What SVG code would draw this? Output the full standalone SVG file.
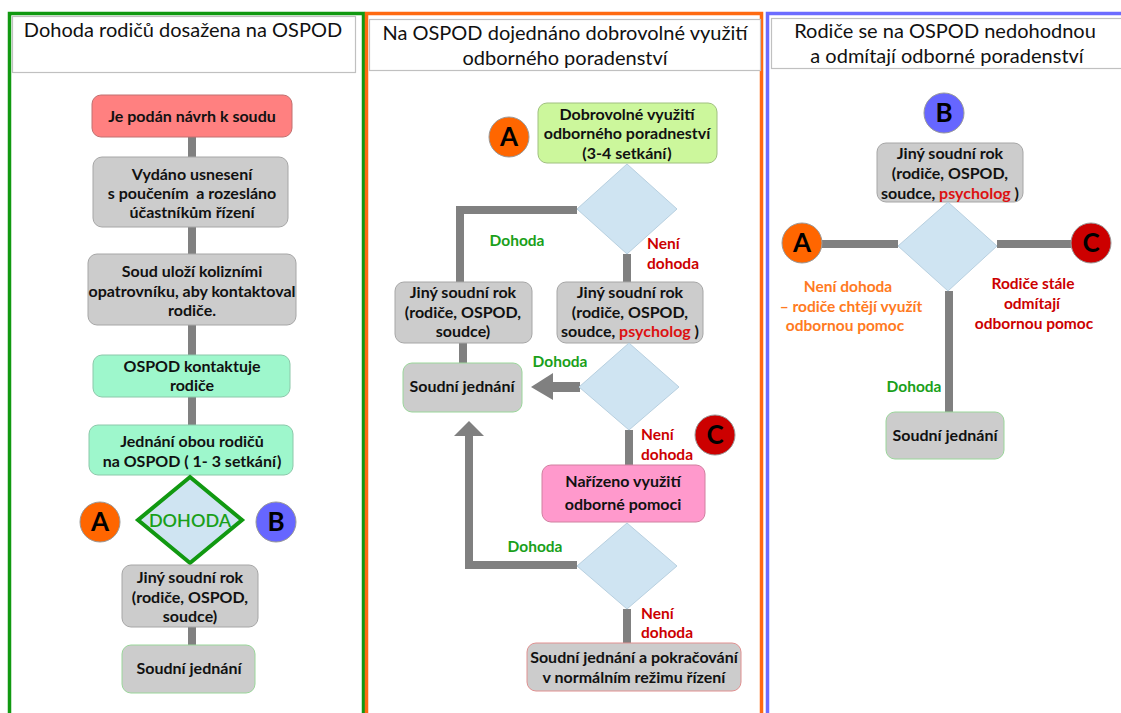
<svg xmlns="http://www.w3.org/2000/svg" width="1121" height="713" viewBox="0 0 1121 713">
<defs>
<style>
text{font-family:"Lato","Open Sans","Liberation Sans",sans-serif;}
.t{font-size:16px;font-weight:bold;fill:#111;text-anchor:middle;}
.h{font-size:20px;fill:#111;text-anchor:middle;}
.g{font-size:15.5px;font-weight:bold;fill:#1aa01a;}
.r{font-size:15.5px;font-weight:bold;fill:#cc0000;}
.o{font-size:15.5px;font-weight:bold;fill:#ff7a22;}
.ps{fill:#dd1111;}
.gray{fill:#cccccc;stroke:#a6a6a6;stroke-width:1;}
.grayg{fill:#cccccc;stroke:#9ad69a;stroke-width:1;}
.grayr{fill:#cccccc;stroke:#e09090;stroke-width:1;}
.red{fill:#ff8080;stroke:#c07070;stroke-width:1;}
.mint{fill:#9ef7cc;stroke:#8cc8aa;stroke-width:1;}
.lg{fill:#ccf79c;stroke:#a0c080;stroke-width:1;}
.pink{fill:#ff99cc;stroke:#d080a0;stroke-width:1;}
.dia{fill:#cfe4f2;stroke:#b8d0e0;stroke-width:1;}
.hdr{fill:#ffffff;stroke:#c0c0c0;stroke-width:1.2;}
.con{stroke:#808080;stroke-width:8;fill:none;}
.ah{fill:#808080;}
.cl{font-size:26px;font-weight:bold;fill:#000;text-anchor:middle;}
.ca{fill:#ff6600;stroke:#999;stroke-width:1;}
.cb{fill:#6666ff;stroke:#999;stroke-width:1;}
.cc{fill:#cc0000;stroke:#999;stroke-width:1;}
</style>
</defs>
<rect width="1121" height="713" fill="#ffffff"/>

<!-- panels -->
<g id="panel-green">
<rect x="9.5" y="13.5" width="354" height="720" fill="none" stroke="#119911" stroke-width="3.5"/>
<rect class="hdr" x="12.5" y="16.5" width="343" height="56"/>
<text class="h" x="183" y="37">Dohoda rodičů dosažena na OSPOD</text>
</g>
<g id="panel-orange">
<rect x="366.5" y="13.5" width="395" height="720" fill="none" stroke="#ff6a10" stroke-width="3.5"/>
<rect class="hdr" x="369.5" y="19.5" width="391" height="51"/>
<text class="h" x="565" y="40">Na OSPOD dojednáno dobrovolné využití</text>
<text class="h" x="565" y="65">odborného poradenství</text>
</g>
<g id="panel-blue">
<rect x="767.5" y="13.5" width="380" height="720" fill="none" stroke="#6b6bff" stroke-width="3.5"/>
<rect class="hdr" x="771.5" y="18.5" width="360" height="50"/>
<text class="h" x="945" y="38">Rodiče se na OSPOD nedohodnou</text>
<text class="h" x="947" y="63">a odmítají odborné poradenství</text>
</g>

<!-- connectors -->
<g id="connectors">
<line class="con" x1="192" y1="137" x2="192" y2="157"/>
<line class="con" x1="192" y1="227" x2="192" y2="254"/>
<line class="con" x1="192" y1="325" x2="192" y2="355"/>
<line class="con" x1="192" y1="397" x2="192" y2="425"/>
<line class="con" x1="192" y1="627" x2="192" y2="645"/>

<polyline class="con" points="577,210 460,210 460,282"/>
<line class="con" x1="627" y1="254" x2="627" y2="282"/>
<line class="con" x1="463" y1="343" x2="463" y2="363"/>
<line class="con" x1="580" y1="387" x2="552" y2="387" style="stroke-width:10"/>
<polygon class="ah" points="553,373 531,387 553,400"/>
<line class="con" x1="629" y1="430" x2="629" y2="465"/>
<polyline class="con" points="577,565 469,565 469,434"/>
<polygon class="ah" points="454,436 469,421 484,436"/>
<line class="con" x1="627" y1="609" x2="627" y2="643"/>

<line class="con" x1="822" y1="244" x2="898" y2="244"/>
<line class="con" x1="997" y1="244" x2="1072" y2="244"/>
<line class="con" x1="949" y1="291" x2="949" y2="412"/>
</g>

<!-- connector labels -->
<g id="labels">
<text class="g" x="517" y="246" text-anchor="middle">Dohoda</text>
<text class="r" x="647" y="249">Není</text>
<text class="r" x="647" y="269">dohoda</text>
<text class="g" x="560" y="367" text-anchor="middle">Dohoda</text>
<text class="r" x="641" y="440">Není</text>
<text class="r" x="641" y="460">dohoda</text>
<text class="g" x="535" y="552" text-anchor="middle">Dohoda</text>
<text class="r" x="641" y="619">Není</text>
<text class="r" x="641" y="638">dohoda</text>
<text class="o" x="848" y="292" text-anchor="middle">Není dohoda</text>
<text class="o" x="851" y="312" text-anchor="middle">– rodiče chtějí využít</text>
<text class="o" x="845" y="331" text-anchor="middle">odbornou pomoc</text>
<text class="r" x="1033" y="289" text-anchor="middle">Rodiče stále</text>
<text class="r" x="1032" y="309" text-anchor="middle">odmítají</text>
<text class="r" x="1034" y="329" text-anchor="middle">odbornou pomoc</text>
<text class="g" x="914" y="392" text-anchor="middle">Dohoda</text>
</g>

<!-- panel 1 nodes -->
<g id="n1"><rect class="red" x="92" y="95" width="200" height="42" rx="9"/>
<text class="t" x="192" y="122">Je podán návrh k soudu</text></g>
<g id="n2"><rect class="gray" x="93" y="157" width="195" height="70" rx="9"/>
<text class="t" x="192" y="180">Vydáno usnesení</text>
<text class="t" x="192" y="199" xml:space="preserve">s poučením  a rozesláno</text>
<text class="t" x="192" y="218">účastníkům řízení</text></g>
<g id="n3"><rect class="gray" x="88" y="254" width="208" height="71" rx="9"/>
<text class="t" x="192" y="277">Soud uloží kolizními</text>
<text class="t" x="192" y="297">opatrovníku, aby kontaktoval</text>
<text class="t" x="192" y="316">rodiče.</text></g>
<g id="n4"><rect class="mint" x="93" y="355" width="197" height="42" rx="9"/>
<text class="t" x="192" y="372">OSPOD kontaktuje</text>
<text class="t" x="192" y="391">rodiče</text></g>
<g id="n5"><rect class="mint" x="89" y="425" width="204" height="50" rx="9"/>
<text class="t" x="192" y="447">Jednání obou rodičů</text>
<text class="t" x="192" y="467">na OSPOD ( 1- 3 setkání)</text></g>
<g id="d1"><polygon points="190,477 242,520 190,563 138,520" fill="#cfe4f2" stroke="#119911" stroke-width="4" stroke-linejoin="miter"/>
<text x="190" y="527" style="font-size:18px;font-weight:600;fill:#1aa01a;text-anchor:middle">DOHODA</text></g>
<g id="cA1"><circle class="ca" cx="100" cy="522" r="20"/><text class="cl" x="100" y="531">A</text></g>
<g id="cB1"><circle class="cb" cx="276" cy="522" r="20"/><text class="cl" x="276" y="531">B</text></g>
<g id="n6"><rect class="gray" x="122" y="565" width="136" height="62" rx="9"/>
<text class="t" x="190" y="583">Jiný soudní rok</text>
<text class="t" x="190" y="603">(rodiče, OSPOD,</text>
<text class="t" x="190" y="622">soudce)</text></g>
<g id="n7"><rect class="grayg" x="122" y="645" width="133" height="48" rx="9"/>
<text class="t" x="189" y="674">Soudní jednání</text></g>

<!-- panel 2 nodes -->
<g id="cA2"><circle class="ca" cx="509" cy="137" r="20"/><text class="cl" x="509" y="146">A</text></g>
<g id="n8"><rect class="lg" x="538" y="103" width="179" height="60" rx="9"/>
<text class="t" x="627" y="120">Dobrovolné využití</text>
<text class="t" x="627" y="139">odborného poradneství</text>
<text class="t" x="627" y="159">(3-4 setkání)</text></g>
<g id="d2"><polygon class="dia" points="627,164 677,209 627,254 577,209"/></g>
<g id="n9"><rect class="gray" x="395" y="282" width="137" height="61" rx="9"/>
<text class="t" x="463" y="298">Jiný soudní rok</text>
<text class="t" x="463" y="318">(rodiče, OSPOD,</text>
<text class="t" x="463" y="337">soudce)</text></g>
<g id="n10"><rect class="gray" x="557" y="282" width="146" height="61" rx="9"/>
<text class="t" x="630" y="298">Jiný soudní rok</text>
<text class="t" x="630" y="318">(rodiče, OSPOD,</text>
<text class="t" x="630" y="337">soudce, <tspan class="ps">psycholog</tspan> )</text></g>
<g id="n11"><rect class="grayg" x="403" y="363" width="119" height="49" rx="9"/>
<text class="t" x="462" y="392">Soudní jednání</text></g>
<g id="d3"><polygon class="dia" points="629,343 679,387 629,430 579,387"/></g>
<g id="cC2"><circle class="cc" cx="715" cy="435" r="20"/><text class="cl" x="715" y="444">C</text></g>
<g id="n12"><rect class="pink" x="542" y="465" width="163" height="57" rx="9"/>
<text class="t" x="623" y="487">Nařízeno využití</text>
<text class="t" x="623" y="510">odborné pomoci</text></g>
<g id="d4"><polygon class="dia" points="627,523 677,566 627,609 577,566"/></g>
<g id="n13"><rect class="grayr" x="527" y="643" width="214" height="48" rx="9"/>
<text class="t" x="634" y="663">Soudní jednání a pokračování</text>
<text class="t" x="634" y="683">v normálním režimu řízení</text></g>

<!-- panel 3 nodes -->
<g id="cB3"><circle class="cb" cx="944" cy="113" r="20"/><text class="cl" x="944" y="122">B</text></g>
<g id="n14"><rect class="gray" x="877" y="143" width="146" height="59" rx="9"/>
<text class="t" x="950" y="159">Jiný soudní rok</text>
<text class="t" x="950" y="179">(rodiče, OSPOD,</text>
<text class="t" x="950" y="199">soudce, <tspan class="ps">psycholog</tspan> )</text></g>
<g id="d5"><polygon class="dia" points="948,202 997,246 948,291 898,246"/></g>
<g id="cA3"><circle class="ca" cx="802" cy="243" r="20"/><text class="cl" x="802" y="252">A</text></g>
<g id="cC3"><circle class="cc" cx="1091" cy="243" r="20"/><text class="cl" x="1091" y="252">C</text></g>
<g id="n15"><rect class="grayg" x="886" y="412" width="118" height="47" rx="9"/>
<text class="t" x="945" y="441">Soudní jednání</text></g>
</svg>
